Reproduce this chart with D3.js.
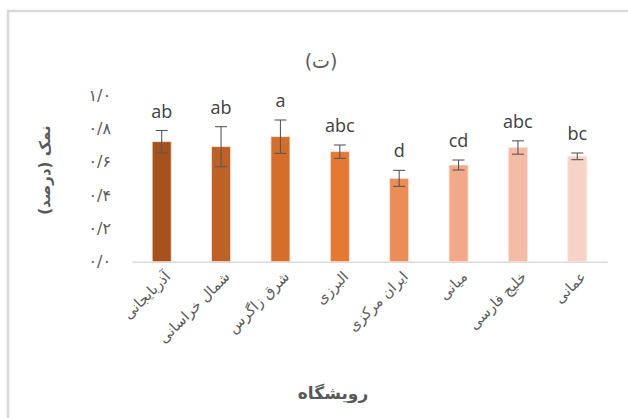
<!DOCTYPE html>
<html>
<head>
<meta charset="utf-8">
<script src="https://cdn.jsdelivr.net/npm/d3@7"></script>
<style>
  html, body { margin: 0; padding: 0; background: #fff; }
  svg { display: block; }
</style>
</head>
<body>
<svg id="chart" width="628" height="418"></svg>
<script>
// Salt content (%) by habitat region
const categories = ["آذربایجانی", "شمال خراسانی", "شرق زاگرس", "البرزی", "ایران مرکزی", "میانی", "خلیج فارسی", "عمانی"];
const values = [0.72, 0.69, 0.75, 0.66, 0.50, 0.58, 0.685, 0.632];
const errors = [0.067, 0.12, 0.10, 0.04, 0.048, 0.03, 0.04, 0.02];
const groups = ["ab", "ab", "a", "abc", "d", "cd", "abc", "bc"];
const colors = ["#A5521F", "#BE6126", "#D36E2B", "#E37932", "#EC8C57", "#F1A98A", "#F4BCA7", "#F6D3C6"];
const yTicks = [0, 0.2, 0.4, 0.6, 0.8, 1.0];

const svg = d3.select("#chart");
const arabicFont = "'DejaVu Sans', sans-serif";
const latinFont = "'Open Sans', 'Noto Sans', sans-serif";

// chart frame
svg.append("rect")
  .attr("x", 8).attr("y", 11)
  .attr("width", 640).attr("height", 430)
  .attr("fill", "none").attr("stroke", "#d9d9d9").attr("stroke-width", 2.5);

const x = d3.scaleBand().domain(categories).range([132, 607]).paddingInner(0.68).paddingOuter(0.34);
const y = d3.scaleLinear().domain([0, 1]).range([261.7, 95]);

const toPersian = s => s.replace(/[0-9]/g, d => "۰۱۲۳۴۵۶۷۸۹"[+d]);

// y axis labels (no line)
const yAxis = d3.axisLeft(y).tickValues(yTicks).tickSize(0).tickPadding(0)
  .tickFormat(d => toPersian(d.toFixed(1)).replace(".", "/"));
const gy = svg.append("g").attr("transform", "translate(111,0)").call(yAxis);
gy.select(".domain").remove();
gy.selectAll("text")
  .attr("font-family", arabicFont).attr("font-size", 16).attr("fill", "#595959")
  .attr("direction", "ltr");

// baseline
const xAxis = d3.axisBottom(x).tickSize(0).tickFormat("");
const gx = svg.append("g").attr("transform", `translate(0,${y(0)})`).call(xAxis);
gx.select(".domain").attr("stroke", "#d9d9d9").attr("stroke-width", 1.5);

// bars
svg.append("g").selectAll("rect").data(categories).join("rect")
  .attr("x", d => x(d))
  .attr("y", (d, i) => y(values[i]))
  .attr("width", x.bandwidth())
  .attr("height", (d, i) => y(0) - y(values[i]))
  .attr("fill", (d, i) => colors[i])
  .attr("stroke", "#fbe3d8").attr("stroke-width", 0.8);

// error bars
const eb = svg.append("g").attr("stroke", "#595959").attr("stroke-width", 1.1);
categories.forEach((c, i) => {
  const cx = x(c) + x.bandwidth() / 2;
  const hi = y(values[i] + errors[i]);
  const lo = y(values[i] - errors[i]);
  eb.append("line").attr("x1", cx).attr("x2", cx).attr("y1", hi).attr("y2", lo);
  eb.append("line").attr("x1", cx - 6).attr("x2", cx + 6).attr("y1", hi).attr("y2", hi);
  eb.append("line").attr("x1", cx - 6).attr("x2", cx + 6).attr("y1", lo).attr("y2", lo);
});

// significance letters
svg.append("g").selectAll("text").data(categories).join("text")
  .attr("x", d => x(d) + x.bandwidth() / 2)
  .attr("y", (d, i) => y(values[i] + errors[i]) - 13)
  .attr("text-anchor", "middle")
  .attr("font-family", latinFont).attr("font-size", 18).attr("fill", "#404040")
  .text((d, i) => groups[i]);

// category labels
svg.append("g").selectAll("text").data(categories).join("text")
  .attr("transform", d => `translate(${x(d) + x.bandwidth() / 2 + 6},${274}) rotate(-45)`)
  .attr("text-anchor", "end")
  .attr("dy", "0.35em")
  .attr("font-family", arabicFont).attr("font-size", 14.5).attr("fill", "#595959")
  .text(d => d);

// title
svg.append("text")
  .attr("x", 321).attr("y", 68)
  .attr("text-anchor", "middle")
  .attr("font-family", arabicFont).attr("font-size", 19).attr("fill", "#595959")
  .text("(ت)");

// axis titles
svg.append("text")
  .attr("x", 333).attr("y", 399)
  .attr("text-anchor", "middle")
  .attr("font-family", arabicFont).attr("font-size", 17).attr("font-weight", "bold").attr("fill", "#595959")
  .text("رویشگاه");

svg.append("text")
  .attr("transform", "translate(50,170) rotate(-90)")
  .attr("text-anchor", "middle")
  .attr("font-family", arabicFont).attr("font-size", 15).attr("font-weight", "bold").attr("fill", "#595959")
  .text("نمک (درصد)");
</script>
</body>
</html>
